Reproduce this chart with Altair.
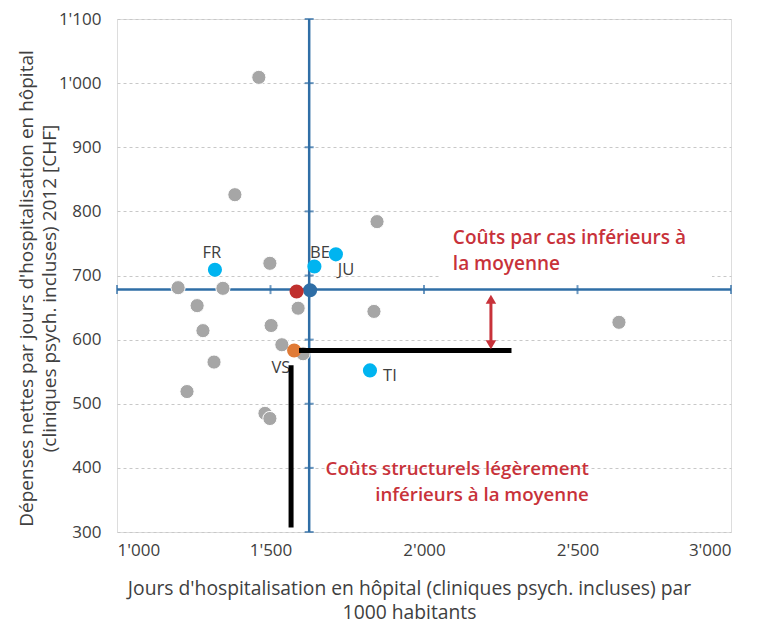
import altair as alt
import pandas as pd

# ---------------- data ----------------
gray_x = [1462, 1384, 1847, 1498, 1199, 1345, 1261, 1590, 1837, 2635, 1502, 1280, 1537, 1606, 1316, 1228, 1482, 1498]
gray_y = [1009, 826, 784, 719, 681, 680, 653, 649, 644, 627, 622, 614, 592, 578, 565, 519, 485, 477]

hl_x = [1319, 1643, 1713, 1824]          # FR, BE, JU, TI
hl_y = [709, 714, 733, 552]

avg_x = [1629]                            # Swiss average (dark blue)
avg_y = [677]
red_x = [1585]
red_y = [675]
vs_x = [1577]                             # VS (orange)
vs_y = [583]

label_text = ["FR", "BE", "JU", "VS", "TI"]
label_x = [1309, 1661, 1746, 1534, 1889]
label_y = [735, 735, 708, 555, 544]

mean_x = 1626
mean_y = 678
x_ticks = [1000, 1500, 2000, 2500, 3000]
y_ticks = [300, 400, 500, 600, 700, 800, 900, 1000, 1100]

black_h_x = [1593, 2285]
black_h_y = [583]
black_v_x = [1567]
black_v_y = [307, 560]

arrow_x = [2218]
arrow_y = [592, 663]

note1_text = ["Coûts par cas inférieurs à\nla moyenne"]
note1_x = [2094]
note1_y = [758]
note2_text = ["Coûts structurels légèrement\ninférieurs à la moyenne"]
note2_x = [2537]
note2_y = [399]

box_x = [2052, 2938]
box_y = [690, 775]

FONT = "Open Sans"
TXT = "#404040"
BLUE = "#2f6ea6"
RED = "#c8323a"

label_expr = "replace(format(datum.value, ','), ',', \"'\")"

xscale = alt.Scale(domain=[1000, 3000], nice=False, zero=False)
yscale = alt.Scale(domain=[300, 1100], nice=False, zero=False)

xaxis = alt.Axis(
    values=x_ticks, labelExpr=label_expr, grid=False, domain=False, ticks=False, tickSize=0,
    labelPadding=10, labelFont=FONT, labelFontSize=17, labelColor=TXT,
    title=["Jours d'hospitalisation en hôpital (cliniques psych. incluses) par", "1000 habitants"],
    titleFont=FONT, titleFontSize=19.3, titleFontWeight="normal", titleColor=TXT,
    titleX=292, titleY=56, titleBaseline="middle", titleAlign="center", titleLineHeight=24,
)
yaxis = alt.Axis(
    values=y_ticks, labelExpr=label_expr, grid=True, gridDash=[3, 3], gridColor="#c8c8c8",
    domain=False, ticks=False, tickSize=0, labelPadding=16, labelFont=FONT, labelFontSize=17,
    labelColor=TXT,
    title=["Dépenses nettes par jours d'hospitalisation en hôpital", "(cliniques psych. incluses) 2012 [CHF]"],
    titleFont=FONT, titleFontSize=19, titleFontWeight="normal", titleColor=TXT,
    titleAngle=270, titleX=-91, titleY=269, titleBaseline="middle", titleAlign="center",
    titleLineHeight=23,
)


def X(field="x"):
    return alt.X(f"{field}:Q", scale=xscale, axis=xaxis)


def Y(field="y"):
    return alt.Y(f"{field}:Q", scale=yscale, axis=yaxis)


# white box behind note 1
box = alt.Chart(pd.DataFrame({"x": [box_x[0]], "x2": [box_x[1]], "y": [box_y[0]], "y2": [box_y[1]]})).mark_rect(
    color="white"
).encode(x=X(), x2="x2:Q", y=Y(), y2="y2:Q")

# mean lines
hline = alt.Chart(pd.DataFrame({"x": [1000], "x2": [3000], "y": [mean_y]})).mark_rule(
    color=BLUE, strokeWidth=2.5
).encode(x=X(), x2="x2:Q", y=Y())
vline = alt.Chart(pd.DataFrame({"x": [mean_x], "y": [300], "y2": [1100]})).mark_rule(
    color=BLUE, strokeWidth=2.5
).encode(x=X(), y=Y(), y2="y2:Q")

hticks = alt.Chart(pd.DataFrame({"x": x_ticks, "y": [mean_y] * len(x_ticks)})).mark_tick(
    color=BLUE, orient="vertical", size=9, thickness=2
).encode(x=X(), y=Y())
vticks = alt.Chart(pd.DataFrame({"x": [mean_x] * len(y_ticks), "y": y_ticks})).mark_tick(
    color=BLUE, orient="horizontal", size=9, thickness=2
).encode(x=X(), y=Y())

PT = 200
gray = alt.Chart(pd.DataFrame({"x": gray_x, "y": gray_y})).mark_circle(
    size=PT, color="#a6a6a6", opacity=1, stroke="white", strokeWidth=1
).encode(x=X(), y=Y())
avg = alt.Chart(pd.DataFrame({"x": avg_x, "y": avg_y})).mark_circle(
    size=PT, color=BLUE, opacity=1
).encode(x=X(), y=Y())
redp = alt.Chart(pd.DataFrame({"x": red_x, "y": red_y})).mark_circle(
    size=PT, color="#c0302e", opacity=1
).encode(x=X(), y=Y())
hl = alt.Chart(pd.DataFrame({"x": hl_x, "y": hl_y})).mark_circle(
    size=PT, color="#00b4f0", opacity=1
).encode(x=X(), y=Y())
vs = alt.Chart(pd.DataFrame({"x": vs_x, "y": vs_y})).mark_circle(
    size=PT, color="#e07a36", opacity=1
).encode(x=X(), y=Y())

labels = alt.Chart(pd.DataFrame({"x": label_x, "y": label_y, "t": label_text})).mark_text(
    font=FONT, fontSize=16.5, color=TXT, align="center", baseline="middle"
).encode(x=X(), y=Y(), text="t:N")

black_h = alt.Chart(pd.DataFrame({"x": [black_h_x[0]], "x2": [black_h_x[1]], "y": black_h_y})).mark_rule(
    color="black", strokeWidth=5
).encode(x=X(), x2="x2:Q", y=Y())
black_v = alt.Chart(pd.DataFrame({"x": black_v_x, "y": [black_v_y[0]], "y2": [black_v_y[1]]})).mark_rule(
    color="black", strokeWidth=5
).encode(x=X(), y=Y(), y2="y2:Q")

arrow_line = alt.Chart(pd.DataFrame({"x": arrow_x, "y": [arrow_y[0]], "y2": [arrow_y[1]]})).mark_rule(
    color=RED, strokeWidth=3
).encode(x=X(), y=Y(), y2="y2:Q")
arrow_heads = alt.Chart(pd.DataFrame({"x": arrow_x * 2, "y": arrow_y, "s": ["triangle-down", "triangle-up"]})).mark_point(
    filled=True, size=110, color=RED, opacity=1
).encode(x=X(), y=Y(), shape=alt.Shape("s:N", scale=None, legend=None))

note1 = alt.Chart(pd.DataFrame({"x": note1_x, "y": note1_y, "t": note1_text})).mark_text(
    font=FONT, fontSize=19, fontWeight=600, color=RED, align="left", baseline="middle",
    lineBreak="\n", lineHeight=26
).encode(x=X(), y=Y(), text="t:N")
note2 = alt.Chart(pd.DataFrame({"x": note2_x, "y": note2_y, "t": note2_text})).mark_text(
    font=FONT, fontSize=18.7, fontWeight=600, color=RED, align="right", baseline="middle",
    lineBreak="\n", lineHeight=26
).encode(x=X(), y=Y(), text="t:N")

chart = alt.layer(
    box, hline, vline, hticks, vticks, gray, avg, redp, hl, vs, labels,
    black_h, black_v, arrow_line, arrow_heads, note1, note2
).properties(
    width=614, height=513,
    padding={"left": 109, "top": 11, "right": 20, "bottom": 100},
    autosize=alt.AutoSizeParams(type="none"),
).configure_view(
    stroke="#b4b4b4", strokeDash=[3, 3], strokeWidth=1
).configure(background="white")

chart.save("out.html", embed_options={"renderer": "svg", "actions": False})
